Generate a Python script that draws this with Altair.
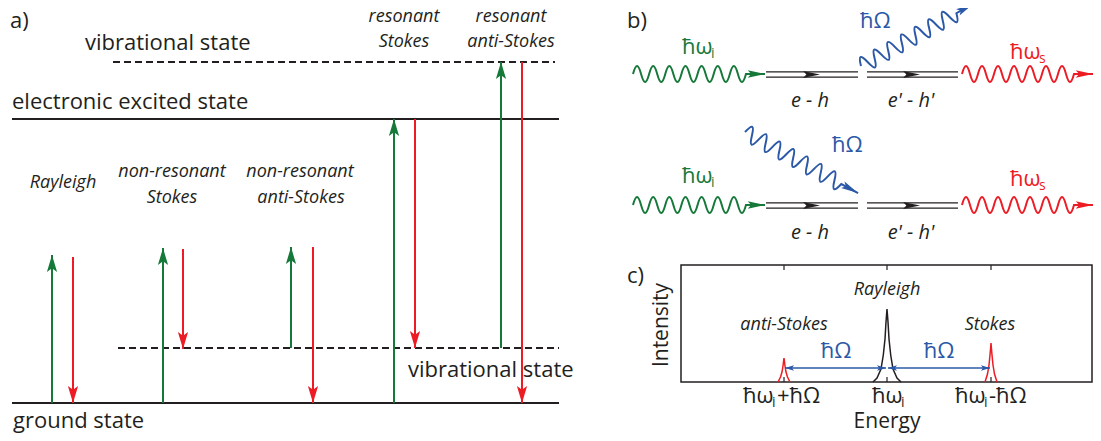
import math
import altair as alt
import pandas as pd

FONT = "Open Sans"
COL = {"absorb": "#16793a", "emit": "#ed1c24", "phonon": "#2b58a7", "black": "#231f20"}

W, H = 1085, 425
xs = alt.Scale(domain=[8, 1093], nice=False, zero=False)
ys = alt.Scale(domain=[8, 433], nice=False, zero=False, reverse=True)


def X(f):
    return alt.X(f, type="quantitative", scale=xs, axis=None)


def Y(f):
    return alt.Y(f, type="quantitative", scale=ys, axis=None)


# ---------------- panel a : energy levels ----------------
level_name = ["electronic excited state", "ground state"]
level_y = [119, 403]
level_x1 = [12, 12]
level_x2 = [559, 559]

vib_name = ["vibrational state (upper)", "vibrational state (lower)"]
vib_y = [62, 348]
vib_x1 = [113, 118]
vib_x2 = [555, 559]

# transitions (x position, start level, end level)
trans_x = [52, 73, 163, 183, 291, 313, 394, 415, 501, 522]
trans_from = [403, 257, 403, 249, 348, 247, 403, 119, 348, 62]
trans_to = [255, 403, 248, 349, 247, 403, 119, 348, 62, 403]
trans_kind = ["absorb", "emit"] * 5

# ---------------- panel b : Feynman-like diagrams ----------------
wave_kind = ["absorb", "phonon", "emit", "absorb", "phonon", "emit"]
wave_x0 = [633, 861, 962, 633, 745, 962]
wave_y0 = [74, 66, 74, 205, 132, 205]
wave_x1 = [765, 973, 1093, 765, 858, 1093]
wave_y1 = [74, 4, 74, 205, 193, 205]

prop_row_y = [74.5, 205.5]
prop_x1 = [766, 867]
prop_x2 = [858, 958]
prop_head_x = [820, 920]

# ---------------- panel c : spectrum ----------------
box_x = [681, 1092]
box_y = [265, 382]
tick_x = [784, 887, 991]
peak_center = [887, 991, 784]
peak_kind = ["black", "emit", "emit"]
peak_dx = [
    [-14, -10, -6, -3.7, -2, -1, 0, 1, 2, 3.7, 6, 10, 14],
    [-6, -3.5, -2, -1, -0.4, 0, 0.4, 1, 2, 3.5, 6],
    [-6, -3.5, -2, -1, -0.4, 0, 0.4, 1, 2, 3.5, 6],
]
peak_h = [
    [0, 4, 13, 27, 43, 60, 73, 60, 43, 27, 13, 4, 0],
    [0, 8, 17, 27, 34, 39, 34, 27, 17, 8, 0],
    [0, 5, 10, 16, 21, 24, 21, 16, 10, 5, 0],
]
shift_x1 = [785, 888]
shift_x2 = [886, 990]
shift_y = [368, 368]

# ---------------- texts ----------------
text_str = ["a)", "vibrational state", "electronic excited state", "vibrational state", "ground state",
            "Rayleigh", "non-resonant", "Stokes", "non-resonant", "anti-Stokes",
            "resonant", "Stokes", "resonant", "anti-Stokes",
            "b)", "ħω", "i", "ħΩ", "ħω", "s", "e - h", "e' - h'",
            "ħω", "i", "ħΩ", "ħω", "s", "e - h", "e' - h'",
            "c)", "Intensity", "Energy", "Rayleigh", "anti-Stokes", "Stokes", "ħΩ", "ħΩ",
            "ħω", "i", "+ħΩ", "ħω", "i", "ħω", "i", "-ħΩ"]
text_x = [10, 85, 12, 408, 13,
          63, 172, 172, 300, 301,
          404, 404, 511, 511,
          627, 682, 711, 860, 1010, 1039, 810, 911,
          682, 711, 832, 1010, 1039, 810, 911,
          627, 668, 887, 887, 784, 990, 836, 939,
          743, 772, 777, 872, 901, 955, 984, 989]
text_y = [28, 50, 109, 377, 428,
          188, 177, 203, 177, 203,
          22, 47, 22, 47,
          28, 54, 58, 28, 59, 63, 107, 107,
          183, 187, 152, 186, 190, 239, 239,
          283, 325, 428, 295, 330, 330, 358, 358,
          403, 407, 403, 403, 407, 403, 407, 403]
text_kind = (["black"] * 14
             + ["black", "absorb", "absorb", "phonon", "emit", "emit", "black", "black"]
             + ["absorb", "absorb", "phonon", "emit", "emit", "black", "black"]
             + ["black"] * 6 + ["phonon", "phonon"] + ["black"] * 8)
text_role = (["big"] * 5 + ["label"] * 9
             + ["big", "sym", "sub", "sym", "sym", "sub", "eh", "eh"]
             + ["sym", "sub", "sym", "sym", "sub", "eh", "eh"]
             + ["big", "axis", "axis", "label", "label", "label", "sym", "sym"]
             + ["sym", "sub", "sym", "sym", "sub", "sym", "sub", "sym"])

ROLE_STYLE = {
    "big": (22, "normal", "left"),
    "label": (18, "italic", "center"),
    "sym": (22, "normal", "left"),
    "sub": (14, "normal", "left"),
    "eh": (20, "italic", "center"),
    "axis": (21, "normal", "center"),
}
CENTERED_SYM = {35, 36}  # ħΩ in panel c are centred

HEAD = "M0,0 L0.6,2 L0,1.55 L-0.6,2 Z"
HEAD_NARROW = "M0,0 L0.42,2 L0,1.6 L-0.42,2 Z"


def wave_path(length, half_target=8.0, amp=8.0, head=19.0):
    wl = length - head
    n = max(2, round(wl / half_target))
    half = wl / n
    k = 4 * amp / 3
    a = half * 0.36
    parts = [f"M0,0 c{a:.2f},{-k:.2f} {half - a:.2f},{-k:.2f} {half:.2f},0"]
    sign = 1
    for _ in range(n - 1):
        parts.append(f"s{half - a:.2f},{sign * k:.2f} {half:.2f},0")
        sign = -sign
    parts.append(f"h{length - wl:.2f}")
    return " ".join(parts)


layers = []

# levels
lev = pd.DataFrame({"name": level_name, "y": level_y, "x1": level_x1, "x2": level_x2})
layers.append(alt.Chart(lev).mark_rule(color=COL["black"], strokeWidth=2).encode(
    x=X("x1"), x2="x2", y=Y("y")))
vib = pd.DataFrame({"name": vib_name, "y": vib_y, "x1": vib_x1, "x2": vib_x2})
layers.append(alt.Chart(vib).mark_rule(color=COL["black"], strokeWidth=1.8, strokeDash=[7, 4]).encode(
    x=X("x1"), x2="x2", y=Y("y")))

# transitions
tr = pd.DataFrame({"x": trans_x, "y1": trans_from, "y2": trans_to, "kind": trans_kind})
tr["col"] = tr["kind"].map(COL)
tr["ang"] = [0 if k == "absorb" else 180 for k in tr["kind"]]
layers.append(alt.Chart(tr).mark_rule(strokeWidth=2).encode(
    x=X("x"), y=Y("y1"), y2="y2", color=alt.Color("col:N", scale=None)))
layers.append(alt.Chart(tr).mark_point(shape=HEAD, filled=True, opacity=1, size=289, strokeWidth=0).encode(
    x=X("x"), y=Y("y2"), angle=alt.Angle("ang:Q", scale=None), color=alt.Color("col:N", scale=None)))

# panel b propagators (double lines)
prop_rows = []
for ry in prop_row_y:
    for x1, x2 in zip(prop_x1, prop_x2):
        for off in (-2.6, 2.6):
            prop_rows.append({"x1": x1, "x2": x2, "y": ry + off})
layers.append(alt.Chart(pd.DataFrame(prop_rows)).mark_rule(color=COL["black"], strokeWidth=1.3).encode(
    x=X("x1"), x2="x2", y=Y("y")))
ph = pd.DataFrame([{"x": hx, "y": ry, "ang": 90} for ry in prop_row_y for hx in prop_head_x])
layers.append(alt.Chart(ph).mark_point(shape=HEAD_NARROW, filled=True, opacity=1, size=289, strokeWidth=0,
                                       color=COL["black"]).encode(
    x=X("x"), y=Y("y"), angle=alt.Angle("ang:Q", scale=None)))

# panel b photons / phonons (wavy arrows)
wave_heads = []
for k, x0, y0, x1, y1 in zip(wave_kind, wave_x0, wave_y0, wave_x1, wave_y1):
    dx, dy = x1 - x0, y1 - y0
    length = math.hypot(dx, dy)
    phi = math.degrees(math.atan2(dy, dx)) % 360
    df = pd.DataFrame({"x": [x0], "y": [y0], "ang": [phi]})
    layers.append(alt.Chart(df).mark_point(shape=wave_path(length), size=4, filled=False, opacity=1,
                                           strokeWidth=2, color=COL[k], stroke=COL[k]).encode(
        x=X("x"), y=Y("y"), angle=alt.Angle("ang:Q", scale=None)))
    wave_heads.append({"x": x1, "y": y1, "ang": (phi + 90) % 360, "col": COL[k]})
layers.append(alt.Chart(pd.DataFrame(wave_heads)).mark_point(shape=HEAD_NARROW, filled=True, opacity=1,
                                                             size=300, strokeWidth=0).encode(
    x=X("x"), y=Y("y"), angle=alt.Angle("ang:Q", scale=None), color=alt.Color("col:N", scale=None)))

# panel c box & ticks
box = pd.DataFrame({"x1": [box_x[0]], "x2": [box_x[1]], "y1": [box_y[0]], "y2": [box_y[1]]})
layers.append(alt.Chart(box).mark_rect(fill="transparent", stroke=COL["black"], strokeWidth=1.5).encode(
    x=X("x1"), x2="x2", y=Y("y1"), y2="y2"))
ticks = pd.DataFrame([{"x": t, "y1": yb, "y2": yb + d} for t in tick_x
                      for yb, d in ((box_y[1], -5), (box_y[0], 5))])
layers.append(alt.Chart(ticks).mark_rule(color=COL["black"], strokeWidth=1.2).encode(
    x=X("x"), y=Y("y1"), y2="y2"))

# panel c peaks
pk_rows = []
for i, (c, kind, dxs, hs) in enumerate(zip(peak_center, peak_kind, peak_dx, peak_h)):
    for j, (dx, h) in enumerate(zip(dxs, hs)):
        pk_rows.append({"peak": i, "o": j, "x": c + dx, "y": box_y[1] - h, "col": COL[kind]})
layers.append(alt.Chart(pd.DataFrame(pk_rows)).mark_line(strokeWidth=1.5).encode(
    x=X("x"), y=Y("y"), detail="peak:N", order="o:Q", color=alt.Color("col:N", scale=None)))

# panel c energy shift arrows
sh = pd.DataFrame({"x1": shift_x1, "x2": shift_x2, "y": shift_y})
layers.append(alt.Chart(sh).mark_rule(color=COL["phonon"], strokeWidth=1.5).encode(
    x=X("x1"), x2="x2", y=Y("y")))
sh_heads = pd.DataFrame([{"x": a, "y": y, "ang": 270} for a, y in zip(shift_x1, shift_y)]
                        + [{"x": b, "y": y, "ang": 90} for b, y in zip(shift_x2, shift_y)])
layers.append(alt.Chart(sh_heads).mark_point(shape=HEAD, filled=True, opacity=1, size=81, strokeWidth=0,
                                             color=COL["phonon"]).encode(
    x=X("x"), y=Y("y"), angle=alt.Angle("ang:Q", scale=None)))

# texts
trows = []
for i, (t, x, y, k, r) in enumerate(zip(text_str, text_x, text_y, text_kind, text_role)):
    fs, style, align = ROLE_STYLE[r]
    if i in CENTERED_SYM:
        align = "center"
    trows.append({"t": t, "x": x, "y": y, "col": COL[k], "fs": fs, "style": style, "align": align,
                  "ang": 270 if t == "Intensity" else 0})
tdf = pd.DataFrame(trows)
for (style, align), grp in tdf.groupby(["style", "align"]):
    layers.append(alt.Chart(grp.reset_index(drop=True)).mark_text(
        font=FONT, fontStyle=style, align=align, baseline="alphabetic").encode(
        x=X("x"), y=Y("y"), text="t:N",
        color=alt.Color("col:N", scale=None), size=alt.Size("fs:Q", scale=None),
        angle=alt.Angle("ang:Q", scale=None)))

chart = alt.layer(*layers).properties(
    width=W, height=H, padding=0, autosize=alt.AutoSizeParams(type="none")
).configure_view(stroke=None)

chart.save("out.html", embed_options={"renderer": "svg", "actions": False})
